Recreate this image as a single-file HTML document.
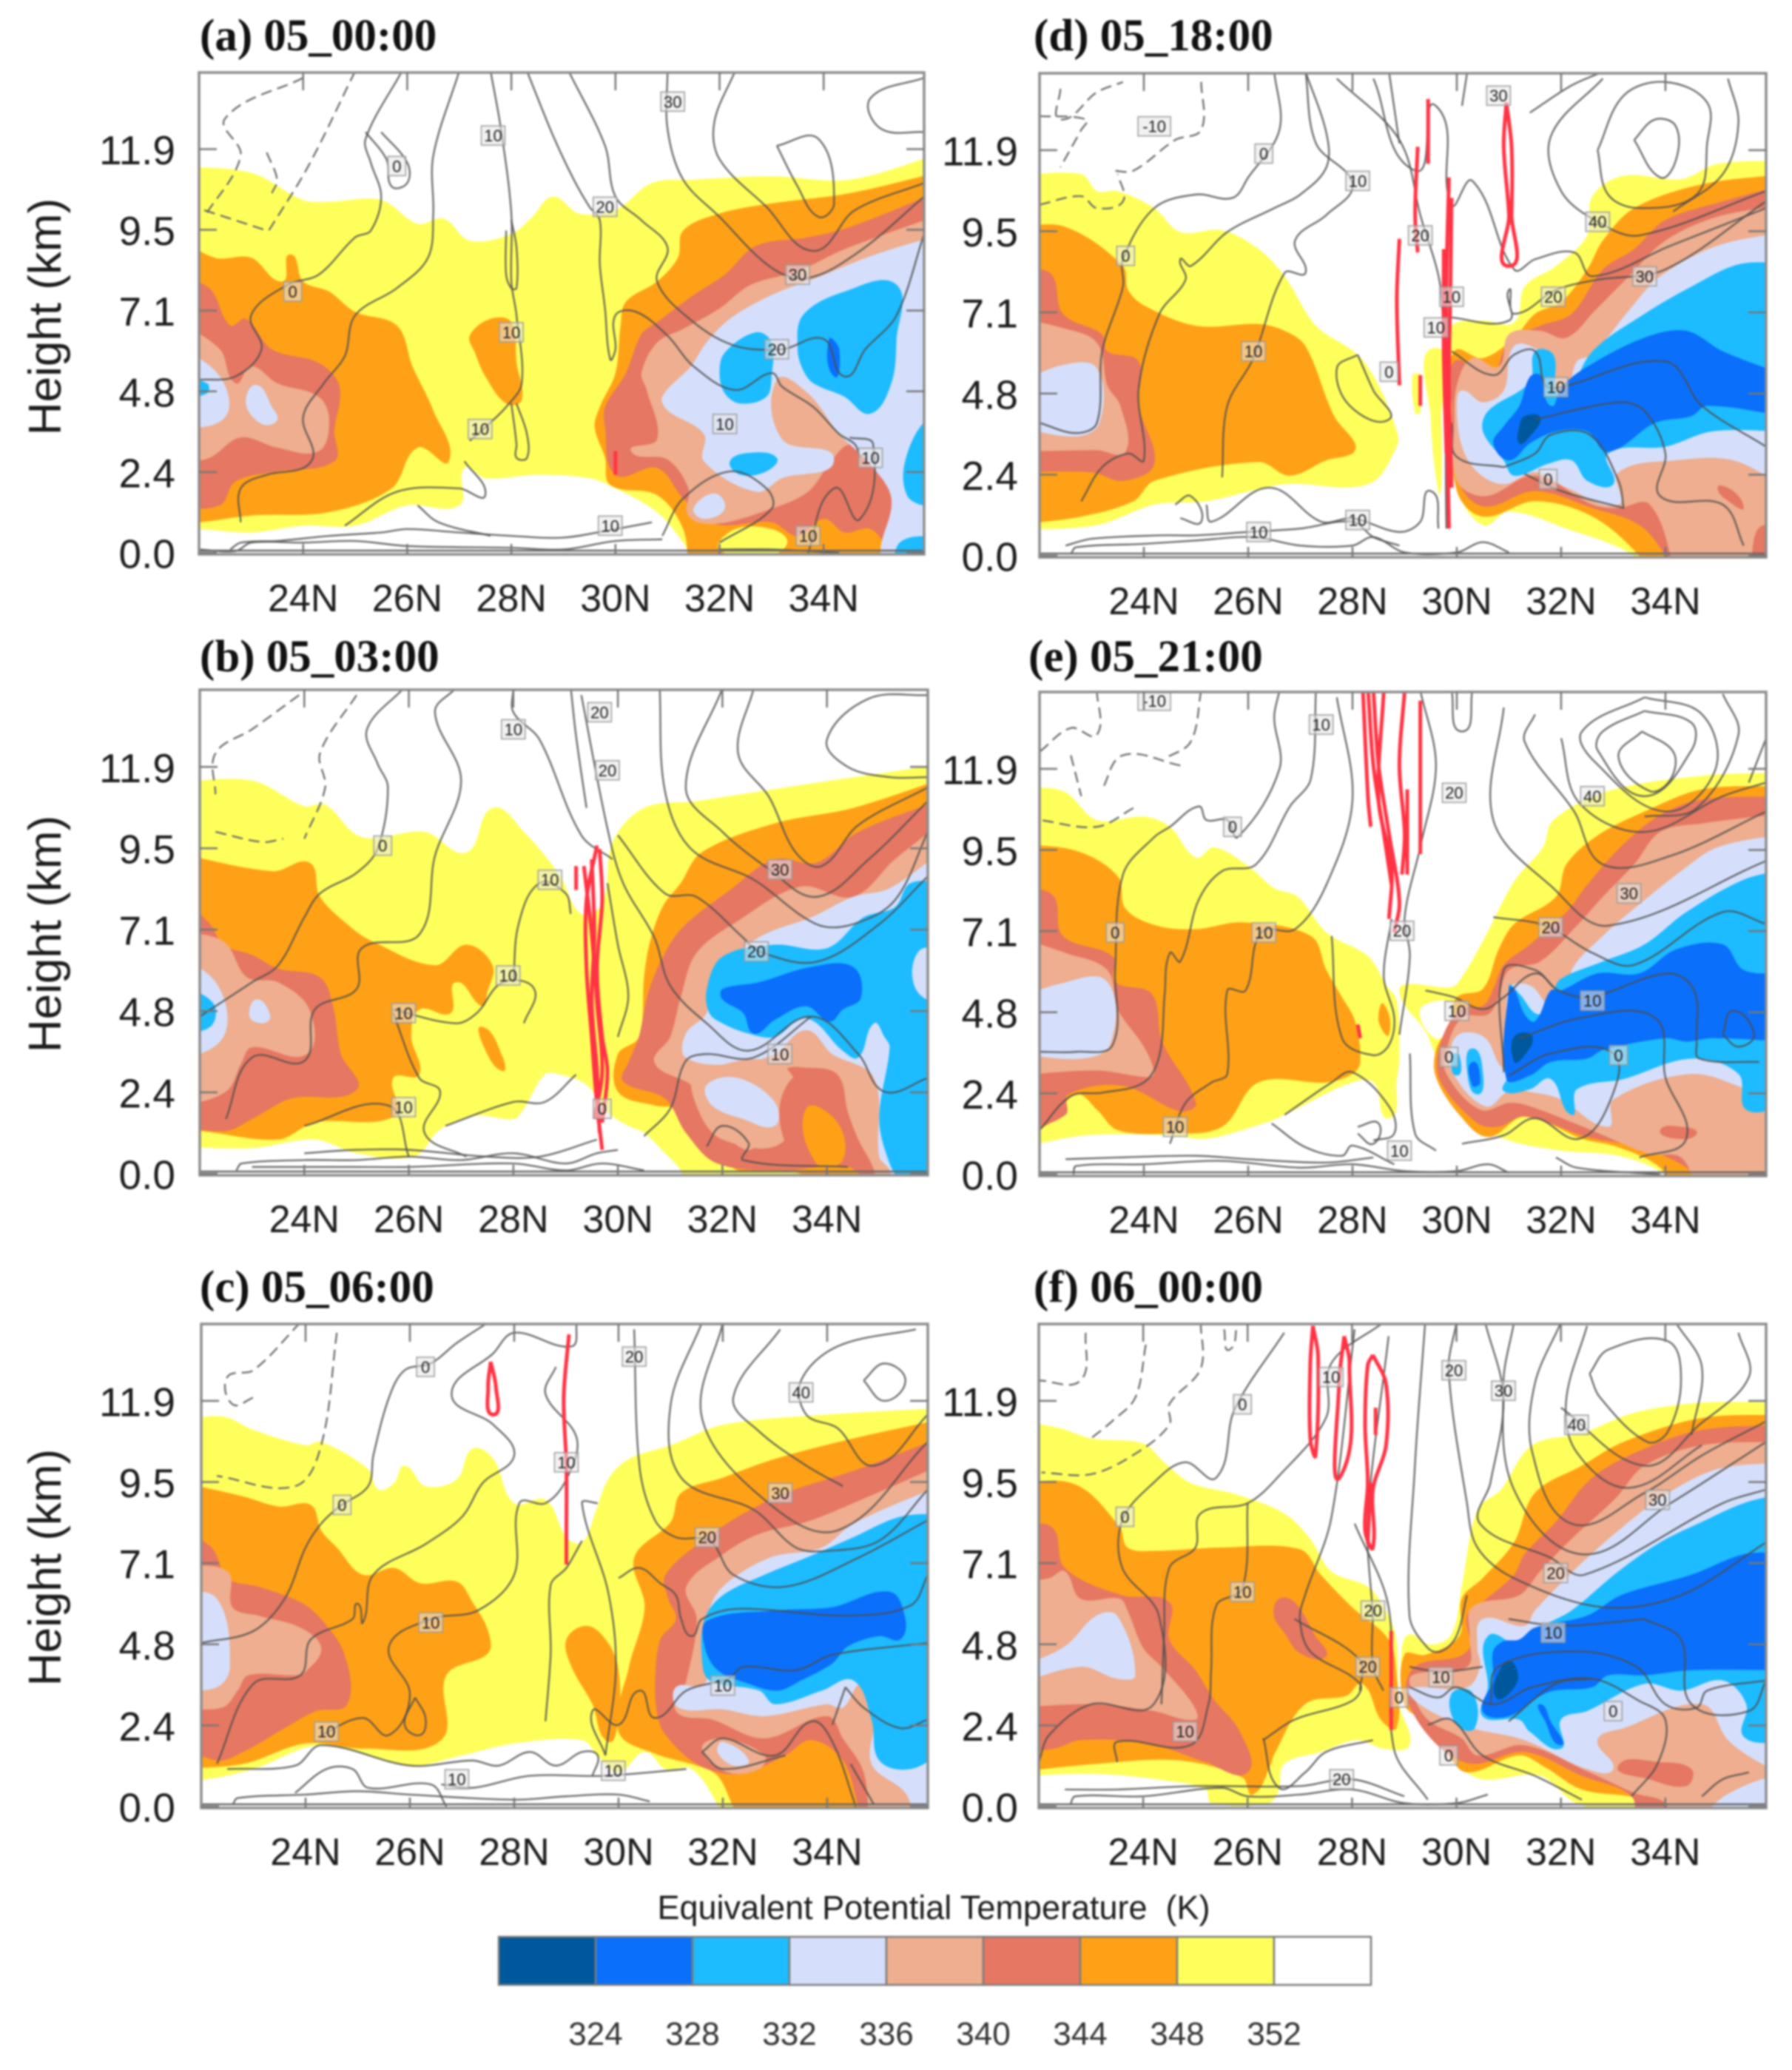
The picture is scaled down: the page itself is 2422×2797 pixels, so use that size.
<!DOCTYPE html>
<html lang="en">
<head>
<meta charset="utf-8">
<title>Equivalent Potential Temperature cross sections</title>
<style>
html,body{margin:0;padding:0;background:#fff;width:2422px;height:2797px;overflow:hidden}
svg{display:block;filter:blur(1.2px)}
text{font-family:"Liberation Sans",sans-serif;fill:#1c1c1c}
.ttl{font-family:"Liberation Serif",serif;font-weight:bold;font-size:61px;fill:#111}
.axt{font-size:62px;text-anchor:middle}
.lg{font-size:44px;text-anchor:middle;fill:#333}
</style>
</head>
<body>
<svg id="chart" xmlns="http://www.w3.org/2000/svg" width="2422" height="2797" viewBox="0 0 2422 2797">
<rect width="2422" height="2797" fill="#fff"/>
<g id="panels"></g>
<text class="ttl" x="270" y="68">(a) 05_00:00</text>
<text class="ttl" x="270" y="907">(b) 05_03:00</text>
<text class="ttl" x="270" y="1759">(c) 05_06:00</text>
<text class="ttl" x="1397" y="68">(d) 05_18:00</text>
<text class="ttl" x="1390" y="907">(e) 05_21:00</text>
<text class="ttl" x="1397" y="1759">(f) 06_00:00</text>
<text class="axt" transform="translate(82,428) rotate(-90)">Height (km)</text>
<text class="axt" transform="translate(82,1262) rotate(-90)">Height (km)</text>
<text class="axt" transform="translate(82,2118) rotate(-90)">Height (km)</text>
<text x="1262" y="2593" font-size="45" text-anchor="middle" fill="#333" style="white-space:pre">Equivalent Potential Temperature  (K)</text>
<g id="legend"></g>
</svg>
<script>
const latTicks=[24,26,28,30,32,34];
const latLabels=['24N','26N','28N','30N','32N','34N'];
const kmTicks=[0,2.38,4.76,7.14,9.52,11.9];
const kmLabels=['0.0','2.4','4.8','7.1','9.5','11.9'];
const legendBands=[324,328,332,336,340,344,348,352,356];
const legendLabels=['324','328','332','336','340','344','348','352'];

/* panel a : filled theta-e regions as [band, [lat,km,...]] */
const a_bands=[
[352,[21.5,11.4,23,11.2,24,10.4,24.5,10.35,25.5,10.4,26.2,9.7,26.7,9.85,27.2,9.2,28,9.4,28.4,9.9,28.8,10.5,29.3,10,30,10.1,30.7,10.9,31.5,11,33,11.1,34.5,11,36.3,11.8,36.3,-.5,31.6,-.5,31.3,.3,30.8,1.2,30,1.9,29.5,2.2,28.5,2.3,27.5,2.2,27.1,2.5,27,1.4,26,1.4,25,.8,24,.8,23,.6,22,.7,21.5,.7]],
[348,[21.5,9.4,22.3,8.7,23,8.7,23.6,8,23.75,8.8,24,8,24.5,7.7,25,7.1,25.8,6.7,26.1,5.5,26.5,4.2,26.8,2.7,26.2,3.1,25.7,1.9,24.5,1.2,23,1.1,22,.9,21.5,.9]],
[348,[27.2,6.4,27.6,6.9,28,6.8,28.1,5.6,28.2,4.5,27.9,4.4,27.5,5.2,27.3,5.9]],
[348,[36.3,11.25,34.5,10.6,33,10.3,32,10,31.3,9.5,31.2,8.7,30.8,8,30.2,7.4,30.1,6.7,30,5.3,29.7,4.3,29.6,3.7,29.8,2.8,29.9,2,30.8,1.7,31.3,.7,31.4,-.5,36.3,-.5]],
[352,[32,.1,32.3,.7,33,.7,33.3,.3,32.9,-.1]],
[344,[21.5,8.2,22.2,7.8,22.6,6.7,22.9,6.9,23.4,6,24.3,5.6,24.7,4.9,24.6,3.6,24.6,2.7,23.5,2.4,22.7,2.1,22.4,1.4,21.5,1.3]],
[344,[36.3,10.7,34.5,9.6,33.7,9.3,32.7,9.05,32.1,8.2,31.5,7.6,30.8,6.8,30.5,6.45,30.2,5.3,29.8,4.3,29.8,3.7,30,2.3,30.8,2.5,31.3,1.6,31.9,.85,33,.9,33.5,.5,34,1,34.4,.6,34.9,.7,35.2,.1,35.2,-.5,36.3,-.5]],
[340,[21.5,6.9,22.4,6,22.7,5,23,5.5,23.5,5,24.3,4.6,24.5,3.9,24.3,3,23.5,3.1,22.8,3.4,22.2,2.8,21.5,2.6]],
[340,[36.3,10,34.4,8.95,33.5,8.3,32.6,7.9,32,7.2,31.3,6.6,30.8,6.2,30.5,5.3,30.6,4.8,30.8,3.35,30.3,3,31,2.75,31.4,1.9,31.4,1.1,31.9,.85,33,1.3,33.7,1.8,34.1,2.6,34.5,3.2,34.9,2.9,35.2,2,35.5,1.5,35.3,.2,35.3,-.5,36.3,-.5]],
[336,[21.5,6.2,22.4,5.2,22.5,4,21.5,3.6]],
[336,[22.9,4.4,23.1,4.95,23.4,4.3,23.5,3.9,23.2,3.8]],
[336,[36.3,9.4,35,8.8,33.85,8.1,33,7.6,32.2,6.9,31.75,6.2,31.45,5.5,30.9,4.6,31,4.2,31.7,3.5,31.7,2.7,32.7,1.8,33.2,2.2,34.2,2.75,33.2,3.35,33.1,5.1,33.7,4.7,34.3,3.5,34.9,2.6,35.3,1.6,35.1,.2,35.1,-.5,36.3,-.5]],
[336,[31.5,1.3,31.9,1.75,32.1,1.3,31.7,1]],
[332,[21.5,5.2,22.15,5,22.15,4.7,21.5,4.5]],
[332,[32,5.3,32.1,5.9,32.7,6.5,33,6.2,33,5.2,32.9,4.6,32.4,4.4,32.1,4.7]],
[332,[33.5,6,33.6,7,34.4,7.7,35.4,7.9,35.4,6.3,35.3,5,34.9,4.1,34.4,4.6,33.8,5,33.6,5.4]],
[332,[32.2,2.7,32.6,2.95,33.1,2.8,32.9,2.4,32.4,2.3]],
[332,[36.3,4,35.9,3.8,35.55,2.6,35.6,1.7,35.9,1.4,36.3,1.4]],
[332,[36.3,.5,35.5,.35,35.3,-.5,36.3,-.5]],
[328,[34.1,6.3,34.2,5.2,34.3,6]]];
const a_lines=[
[22,5.1,22.7,5.2,23.2,6,23,7,23.7,7.9,24.3,8.2,25,9.3,25.3,9.5,25.5,10.5,25.3,11.5,25.2,12.2,25.9,14.2],
[22.8,.9,22.8,1.9,23.3,2.3,24,2.5,24.2,2.9,24,4,24.4,5,24.8,5.8,25,7,25.8,7.8,26.4,8.7,26.5,10,26.5,11.7,27,14.2],
[25.2,12.4,25.6,11.6,25.7,10.8,26,10.9,26,11.5,25.5,12.4],
[27.6,14.2,27.8,12.5,28,10,28,8,28.1,7,28.2,5,27.9,4.3,27.5,3.7,27.2,3.3],
[27.9,9.5,27.9,8.2,28,7.8,28.1,7.8,28.1,9,28,9.8],
[28,4.4,28.1,3.2,28.1,2.8,28.3,2.8,28.3,3.5,28.1,4.4],
[28.3,14.2,28.8,12.3,29.2,11,29.5,10.2,29.7,9.8,29.7,8.5,29.8,7.2,29.9,5.7,30,6,30,7,30.4,7.1,31,6.4,31.5,5.5,32.3,4.8,33,5.3,33.2,4.9,33.8,4.3,34.3,3.5,34.6,3.2,34.7,2.8],
[29.1,14.2,29.8,12,30,10.5,30.5,9.8,31,9,30.8,8,31.5,6.8,32.3,6.1,33.2,6,34,6.3,34.4,5.2,34.8,6,35.4,7,35.93,9.4],
[31,14.2,31,12.5,31.3,11,32,9.9,33,8.4,33.7,8.1,34.7,8.9,35.93,10.5],
[32.3,14.2,31.9,12.7,32,11.6,32.9,10.2,33.8,8.9,34.6,10.1,35.93,10.9],
[33.1,12,33.9,12.2,34.2,10.3,33.9,9.9,33.5,10.8,33.1,12],
[35.93,14,34.9,13.4,35.1,12.5,35.93,12.4],
[22.6,.1,22.8,.3,23.5,.35,24.5,.5,25.5,.6,26,.7,27,.6,28,.5,29,.45,30,.7,30.7,.9],
[22,.1,22.7,.05,23,.3,24,.3,25,.35,26,.2,28,.15,29,.1,30,.35,30.9,.4],
[26.2,1.4,26.6,.9,27.6,.5],
[24.8,.8,25.8,1.8,27,1.9,27.5,1.7,27.1,2.7],
[32,.3,33,1.3,32.9,1.9,32.2,2.4,31.3,1.6,30.9,.5],
[33.7,0,34.2,1.9,34.7,1,34.95,3.2,34.5,3.4],
[32,.1,33,.1,34.3,0]];
const a_dashed=[
[25,14.2,24.1,11.4,23.3,9.4],
[24,14,22.5,12.8,22.8,11.7,22.1,9.9],
[22.1,10.1,23.3,9.5],
[23.3,11.8,23.5,11,23.4,10.6]];
const a_red=[[30,3,30,2.3]];
const a_labels=[[27.65,12.3,'10'],[25.8,11.4,'0'],[31.1,13.3,'30'],[29.8,10.2,'20'],[23.8,7.7,'0'],[28,6.5,'10'],[27.4,3.65,'10'],[33.5,8.2,'30'],[33.1,6,'20'],[32.1,3.8,'10'],[34.9,2.8,'10'],[29.9,.8,'10'],[33.7,.5,'10']];

/* panel b */
const b_bands=[
[352,[21.5,11.45,23,11.5,24,10.75,24.4,10.8,25.1,9.85,26.3,10,27.1,9.4,27.6,10.7,28.2,10,28.9,8.7,29.3,7.6,29.7,7.9,29.9,9.7,30.5,10.7,31.5,10.9,33.2,11.3,36.3,12,36.3,-.5,31.3,-.5,31.2,.1,30.9,.6,30.5,1.2,30.2,1.4,29.8,1.8,29.4,2.6,28.9,2.9,28.6,2.9,28.2,1.9,28,1.6,27.3,1.7,26.6,1.3,26.1,.5,25,.6,24.2,1,23,.75,21.5,.8]],
[348,[21.5,9.4,23.4,8.85,24.1,9.1,24.3,8.1,24.9,7.2,25.3,6.8,26.5,6.1,27.1,6.7,27.6,6.1,27.5,5.3,27.4,4.9,26.9,5.6,26.8,4.7,26.2,4.8,26.05,4,26.2,2.9,25.7,2.8,25.75,1.7,24.2,1.5,23.5,1,22,1.25,21.5,1.25]],
[348,[27.4,4.3,27.8,3.4,27.8,3,27.5,3.5]],
[348,[36.3,11.6,34.5,10.7,33,10.25,31.6,9.4,31.2,8.5,30.85,7.8,30.6,6.7,30.5,5.75,30.4,4,30,3.5,30,2.4,30.7,2,31.3,1.85,31.9,.65,32.3,.1,33.5,0,33.5,-.5,36.3,-.5]],
[344,[21.5,8.3,22.2,7.3,22.45,6.7,23,6.4,23.5,6,24.3,5.75,24.55,4.9,24.7,3.5,25,2.45,23.75,2.2,23,1.6,22.5,1.25,21.5,1.4]],
[344,[36.3,11,34.6,10,33.8,9.1,33,9.2,32.1,8.25,31.3,7.3,30.95,6.6,30.6,5.4,30.4,4,30.2,3.25,30.1,2.7,30.9,2.2,31.3,1.2,31.9,.3,33.2,.1,34.4,.2,34.9,-.5,36.3,-.5]],
[348,[33.6,1.9,34.2,1.5,34.3,.4,33.8,.3]],
[340,[21.5,7.1,22.45,6.8,22.9,5.75,23.5,5.6,24.1,4.8,24.05,3.5,23,3.7,22.8,3.25,22.5,2.4,21.5,1.9]],
[340,[36.3,10.4,35.3,9.2,34.5,8.1,33.5,8.4,32.3,7.4,31.5,6.45,31.2,5.15,31,4,30.7,3.25,31.4,2.6,31.8,1.85,32.1,1.1,32.5,.7,32.8,1.1,33.1,1.6,33.2,3,33.6,3.1,34.2,2.9,34.4,1.8,34.6,1,34.9,.1,34.9,-.5,36.3,-.5]],
[336,[21.5,6.5,22.35,5.5,22.45,4,21.5,3.2]],
[336,[22.95,4.6,23.1,5.1,23.35,4.6,23.2,4.4]],
[336,[36.3,9.55,35.2,8.35,34.5,8.1,33.7,7.5,32.8,7,32.2,6.35,31.8,5.6,31.7,4.7,31.3,4.1,31.3,3.4,32.2,3.2,33,3.5,33.6,4.2,34.1,3.5,34.9,2.8,35,.5,35.2,.1,35.2,-.5,36.3,-.5]],
[340,[31.5,2.9,33.2,3.1,33.2,1,32,1,31.5,2]],
[336,[31.7,2.6,32.3,2.8,33,2.1,33,1.4,32.4,1.6,31.8,2]],
[344,[33.2,2.5,33.6,3,34.2,2.7,34.4,1.6,34.5,.6,33.4,.6,33.1,1.5]],
[348,[33.6,1.9,34.2,1.5,34.3,.4,33.8,.3]],
[332,[21.5,5.6,22.25,5,22.2,4.3,21.5,4.1]],
[332,[36.3,8.5,35.6,8.5,35.3,7.8,34.7,7.5,34,6.6,33,6.7,32,6.35,31.7,5.4,31.75,4.7,32,4.4,32.5,4.1,33,4,33.6,4.55,34.3,3.6,34.6,3.4,34.9,4.4,35.1,4,35.2,3.7,35,1.6,35.2,.3,35.5,-.5,36.3,-.5]],
[336,[36.3,6.6,35.75,6.5,35.7,5.4,36.3,4.8]],
[328,[32,5.4,32.7,5.6,33.7,6.05,34.5,6.05,34.65,5.15,34.3,4.8,34.05,4.45,33.6,4.9,33,4.5,32.6,4.1,32.4,4.7,32,5.1]]];
const b_lines=[
[22,4.6,23,5.6,23.5,6.1,24,7.5,24.3,8.2,25,8.8,25.4,9.5,25.6,11.3,25.4,12,25.2,13,25.9,14.2],
[22.5,1.6,23,3.4,24,3.3,24.2,4.8,25,5.4,25.1,6.6,26.2,7,26.5,9.3,27,11.5,26.5,13.5,26.9,14.2],
[24,1.4,25.6,2,26,.5],
[25.7,4.7,26.2,2.8,26.6,2.4,26.3,1.2,27.1,.5],
[25.7,4.8,26.9,4.4,27.3,4.7,27.8,5.6,28.4,5.4,28.2,4.4],
[28,5.6,28.1,7.3,28.5,8.5,29,8.2,29.1,7.6],
[26.7,1.4,28,2.1,28.6,2.1,29.2,2.9],
[28,14.2,28,13.5,28.5,12.7,29.3,9.9,29.9,9.2],
[29.1,14.2,29.2,12.8,29.4,10.7],
[29.3,14,29.8,10.1,30.1,8.5,30.7,6.9,31,5.5,31.7,4.4,32.5,3.6,33.7,4.6,34.6,3.5,35.1,2.4,35.93,2.8],
[30,9.9,30.9,8.2,31.5,8.1,32.4,6.9,32.7,6.5,33.8,6.2,35,7.3,35.93,8.7],
[30.8,14.2,30.9,11.2,31.4,9.5,32.6,8.6,33.8,7.3,34.5,7.3,35.3,8,35.93,10],
[32,14.2,31.3,11.3,32,10,32.9,8.9,33.8,8.1,34.8,9.2,35.93,10.9],
[32.6,14.2,32.3,12.3,32.9,11,33.4,9.4,33.9,9,34.6,10.2,35.93,11.3],
[35.93,14,34.8,13.9,34,12.7,34.4,11.9,35.2,11.6,35.93,11.6],
[30.5,1.1,31,1.9,31.3,3.3,31.7,3.5,32.6,3.4,33.7,4.6],
[31.7,.8,32,1.4,32.5,.9,32.4,.4,34.4,.2],
[30,4,30.2,5.2,30,6.7,29.8,8.5],
[22.7,.1,22.8,.3,24,.4,25,.4,26,.5,27,.4,28,.6,29,.3,29.6,.6,30,.7],
[23,.2,25,.2,26,.2,28,.3,29,.1,29.7,.3,30.5,.1],
[24,.6,25,.7,26,.7,27.5,.5,28.5,.5,29.6,1]];
const b_dashed=[
[25,14,24.3,12.3,24.4,11.3,24,9.8],
[23.9,14,23,13,22.3,12.3,22.3,11.1],
[22.3,10,23.2,9.7,23.6,9.8]];
const b_red=[
[29.2,9,29.2,8.3],
[29.6,9.6,29.4,8,29.4,6,29.5,4,29.6,2,29.7,.7],
[29.65,9.5,29.7,8,29.6,6,29.7,4,29.8,3,29.7,1.5],
[29.35,9,29.5,7,29.6,5,29.7,3,29.55,1.6],
[29.5,9.2,29.55,7,29.5,5,29.6,3,29.65,1.2]];
const b_labels=[[28,13,'10'],[29.65,13.5,'20'],[29.8,11.8,'20'],[25.5,9.6,'0'],[28.7,8.6,'10'],[27.9,5.8,'10'],[25.9,4.7,'10'],[25.9,1.95,'10'],[29.7,1.9,'0'],[33.1,8.9,'30'],[32.65,6.5,'20'],[33.1,3.5,'10']];

/* panel c */
const c_bands=[
[352,[21.5,11.3,22.4,11.45,23,11.05,24,10.6,24.3,10.7,25.2,9.9,25.4,9.3,25.7,9.5,25.9,10,26.3,9.4,26.9,9.6,27.2,10.5,27.6,10.2,28,8.9,28.6,9,29,7.9,29.3,7.75,29.55,8.6,29.8,9.6,30.2,10.2,31,10.6,32,11.2,34,11.5,36.3,11.7,36.3,-.5,32,-.5,31.9,.05,31.4,1.1,30.9,1.1,30.5,1.6,30,1,29.6,1.5,29.3,1.95,28,1.85,27,1.5,26,1.2,24.3,1.8,23,1.1,22,.77,21.5,.77]],
[348,[21.5,9.55,22.8,9.1,23.5,8.8,24.1,8.85,24.3,8.1,24.6,7.6,25.1,6.8,25.7,7,26.2,6.55,26.9,6.6,27.2,6,27.5,5.15,27.5,4.5,26.7,3.85,26.6,1.95,25.1,1.7,24,1.85,22.8,1.25,21.5,1.1]],
[348,[29,4.9,29.4,5.3,29.8,4.8,30,4,30,2.6,29.8,1.9,29.5,3,29.1,4.1]],
[348,[36.3,11.4,34.5,10.8,33,10.2,32,9.65,31.2,9.2,31,8.35,30.3,7.3,30.5,5.85,30.2,4.1,30,2.2,30.7,1.55,31.5,1.2,31.9,.9,32.2,0,32.4,-.5,36.3,-.5]],
[344,[21.5,8.2,22.2,7.6,22.5,6.7,23.1,6.45,23.9,6,24.3,5.5,24.75,4.45,24.8,3,24.2,2.8,23.6,2.3,22.8,1.6,22.3,1.35,21.5,1.9]],
[344,[36.3,10.9,34.6,9.9,33.2,9.2,32.4,8.6,31.7,7.9,30.9,6.8,30.95,6.1,31.1,5.5,30.8,4.9,30.7,3.6,30.75,2.65,30.9,2.1,31.5,1.25,32.3,.95,33.2,1.5,33.7,1.95,34.3,1.35,34.6,0,34.7,-.5,36.3,-.5]],
[340,[21.5,7.05,22.5,6.9,22.6,5.85,23.1,5.6,23.9,5.25,24.3,4.65,24,3.95,23.8,3.85,22.9,3.85,22.7,3.4,22.4,2.9,21.5,2.9]],
[340,[36.3,10.1,34.5,8.9,33.6,8.35,32.7,8,32,7.4,31.3,6.45,31.5,5.5,31.3,3.7,31.1,2.8,31.8,2.55,32.8,2,34,2.65,34.3,2,34.7,1,34.8,-.5,36.3,-.5]],
[340,[31.6,1.7,32,2,32.8,1.5,32.7,1.1,32.1,1]],
[336,[21.5,6.3,22.3,6.1,22.55,4.1,22.3,3.5,21.5,3.4]],
[336,[36.3,9.5,34.5,8.3,33.9,7.6,32.9,7.3,32,6.45,31.7,5.6,31.65,4.55,31.65,3.6,31.1,3.5,31.15,2.9,32,2.85,32.8,2.65,34,3,34.3,2.9,34.7,3.6,34.9,2.55,34.85,1.25,35.5,.4,35.7,-.5,36.3,-.5]],
[336,[32,1.9,32.5,1.35,32.2,1.2,31.9,1.6]],
[332,[36.3,8.6,35.4,8.5,34.5,7.9,33.6,7.3,32.8,6.8,32,6.2,31.65,5.5,31.6,4.3,31.75,3.7,32.7,3.4,33,3,33.9,3.4,34.5,3.7,34.85,2.55,35,1.35,35.6,1.1,36.3,1.7]],
[328,[31.7,5.45,33,5.75,34.1,5.85,35.2,6.3,35.5,5.5,35.4,4.9,35,5,34.4,4.7,34.1,4.2,33.5,3.7,33.05,3.4,32.5,3.6,31.9,4,31.65,4.7]]];
const c_lines=[
[22,4.8,23,5.15,23.6,6.1,24,7.6,24.3,8.3,24.65,8.8,25.2,9.4,25.3,10.3,25.6,12,25.9,12.8,26.4,13,26.9,13.6,27.5,14.2],
[22.3,1.25,23,3.6,23.9,3.85,24.1,4.9,24.9,5.5,25,5.95,25.1,5.4,25.3,6.8,26.3,7.7,27,8.5,27.4,9.5,28,10.3,27.6,11.2,26.8,12.1,27.6,13.3,28,13.9,29.1,13.5,29.2,14.2],
[24.3,2.1,25.1,2.6,25.6,2.1,26,3.3,25.6,4.7,26.4,5.5,27.3,5.75,28,6.8,28.1,8.9,28.6,8.9,29,9.6,29.2,10.8,28.6,12.1,28.8,12.9],
[26.1,3.2,25.9,2.4,26.2,2.1,26.3,2.6,26.1,3.2],
[22.5,1.1,23.8,1.2,24.3,1.8,26,1.2,27.2,1.35,27.7,1.2,28.3,1.6,28.8,1.2,29.3,1.6,29.6,1.5,29.5,.9],
[23.8,.4,24.4,1.1,24.9,1.1,25.2,.55,26.4,.65,26.7,0],
[26.6,.65,27.2,.55,28.3,.9,29.7,.9,31.3,1.1],
[28.6,2.5,28.7,4.5,28.7,6.5,29,7,29.3,7.8],
[29.75,1.5,29.95,4.1,29.8,6.3,29.3,8.9,29.6,8.9],
[29.75,1.5,29.5,2.8,30,2.4,30.4,3.4,30.7,2.6,31.3,3.4,32.1,3.75,32.4,4.1,33.4,4,34.1,4.45,35.93,4.8],
[30,6.7,30.4,7,30.8,6.55,31.1,6.2,31.2,5.5,31.4,5,31.6,5.5,32.3,5.8,34.4,5.6,35.6,5.9,35.93,6.8],
[30.3,14,30.4,10,30.7,8.4,31.1,7.9,31.75,7.8,32.2,6.8,33.2,6.45,34.6,7.3,35.93,8.4],
[31.6,14.2,31,11.8,31.2,9.65,32.6,8.7,33.4,7.6,34,7.5,35,7.8,35.93,9.3],
[32,14.2,31.6,11.4,32.8,9,34.2,8.1,35.93,10.7],
[33.1,14,32.2,12,32.7,11,33.6,10,34.3,9.4],
[35.7,14,34.2,13.5,33.5,12.5,33.6,11.5,34.2,11.1,34.9,10,35.93,11.5],
[34.7,12.5,35.1,13,35.5,12.5,35.1,11.9,34.7,12.5],
[31.6,1.6,32,2,33,1.5,33.7,2.5,34.1,1.9,34.55,0],
[31.6,1.6,32,1.1,33.2,1.5],
[34.35,3.5,34.7,2.9,35.4,2.3,35.93,2.55],
[34.35,3.5,34.1,2.4],
[34.45,1.25,34.9,.05],
[22.6,.05,22.7,.25,24,.35,25,.45,26,.35,28,.2,29,.3,30,.35,30.6,.15]];
const c_dashed=[
[24.6,13.9,24.3,10.6,23.8,9.4,22.3,9.7],
[23.9,14.2,23,12.8,22.5,12.6,22.6,11.8,23,12]];
const c_red=[
[27.55,13.05,27.65,12.3,27.6,11.5,27.5,12.3,27.55,13.05],
[29.05,13.85,28.95,12,29,10,29,8,29,7.1]];
const c_labels=[[26.3,12.9,'0'],[30.3,13.2,'20'],[33.5,12.15,'40'],[24.7,8.85,'0'],[29,10.1,'10'],[33.1,9.2,'30'],[31.7,7.9,'20'],[26.4,5.4,'10'],[24.4,2.2,'10'],[32,3.55,'10'],[26.9,.8,'10'],[29.9,1.05,'10']];

/* panel d */
const d_bands=[
[352,[21.5,11.15,22.8,11.2,23.1,10.7,23.5,10.7,24.2,10.2,24.7,9.5,25.5,9.55,26.2,9,26.7,8.2,27.3,6.75,28.1,5.9,28.5,5,28.85,3.65,28.85,3.2,28.3,2.1,26.7,2.1,25.2,1.6,24.2,1.5,23.1,.9,21.5,.75]],
[352,[29.9,6.75,30.5,6.9,31.1,6.85,31.3,7.9,31.9,8.5,32.5,9.4,32.6,10.55,33.2,11.15,34.3,11.05,35,11.5,36.3,11.6,36.3,-.5,33.4,-.5,33.4,0,32.1,.8,31,1.3,30.5,.9,30,2,29.8,4,29.8,6]],
[352,[29.6,6.1,29.7,4,29.7,2,29.65,1.8,29.5,4]],
[352,[29.15,5.3,29.3,5.3,29.3,4.2,29.2,4.2]],
[348,[21.5,9.65,22.5,9.65,23.6,8.5,23.7,7.8,24,7.35,25,6.75,26.2,6.8,26.7,6.6,27.1,6.15,27.65,4.1,28.05,3.3,28,3,27.5,2.8,26.8,2.35,26.2,2.75,24.2,2.2,23.8,1.6,22.8,1.15,21.5,.9]],
[348,[36.3,11.2,34.7,10.9,33.4,10.2,32.8,9.25,32.5,8.4,32,7.45,31.5,7.1,31.1,6.4,30.5,5.8,29.95,6,29.9,4.4,30,1.9,30.5,1.15,31.5,1.6,32.6,1.15,33.5,0,33.6,-.5,36.3,-.5]],
[344,[21.5,8.3,22.2,8.3,22.45,7.1,23.2,6.5,23.3,6,23.9,5.7,23.9,4.4,24.2,2.7,23.6,2.2,23,2.45,21.5,2.45]],
[344,[36.3,10.9,35.1,10.4,34,9.85,33.4,9,32.8,8.4,32.2,7.1,31.6,6.75,31,6.3,30.7,5.25,30.5,5.25,29.95,5.7,29.9,4.4,30,2.3,30.5,1.45,31.5,1.9,32.6,1.4,33.5,.9,34,0,34.1,-.5,36.3,-.5]],
[340,[21.5,7,22.4,6.7,23.1,6.25,23.3,5,23.55,4.4,23.65,3.05,23.1,3.1,21.5,3.05]],
[340,[36.3,10.3,35,9.95,34,9.25,33.3,8.2,32.65,7.2,32.1,6.4,31.6,6.6,31,6.5,30.8,5.55,30.3,5.8,30,5,29.95,3.8,30,2.2,30.55,1.75,31.5,2.35,32.6,1.5,33.1,1.4,33.7,1.5,34.2,-.5,36.3,-.5]],
[344,[35,2,35.3,1.9,35.5,1.4,35.3,1.5]],
[344,[35.6,-.5,35.93,.9,36.3,-.5]],
[336,[21.5,5,22.45,5.6,23.1,5.5,23.15,3.9,22.7,3.5,21.5,3.8]],
[336,[36.3,9.5,35,9.1,33.9,8.2,33.3,7.2,32.6,5.9,32.3,5.7,32,4.6,31.75,5.55,31.6,6,31.1,6.15,30.9,4.85,30.5,4.5,30.1,4.85,30,4.4,30.1,3.2,30.4,2.45,30.9,2.1,31.5,2.45,32.1,2,33.1,1.5,33.1,2.45,34.2,2.8,35.3,2.8,36.3,2]],
[332,[36.3,8.6,35.4,8.55,34.5,7.9,33.6,7.1,32.6,6,32.1,4.7,31.9,4.85,31.85,5.9,31.5,6,31.4,5.1,30.6,4.25,30.5,3.65,30.9,2.8,31.1,2.35,31.75,2.7,32.2,2.8,32.5,2.2,33,2.1,32.9,3,34,3.2,34.9,3.65,36.3,3.65]],
[328,[36.3,5.3,35.1,6,34.4,6.6,33.6,6.4,32.5,5.55,32,4.95,31.8,4.4,31.6,5.3,31.4,5.25,31.2,4.4,30.9,3.8,30.7,3.3,31,2.8,31.4,3.3,31.9,3.65,32.5,3.65,32.9,3.05,33.8,3.9,34.5,4.1,34.8,4.4,36.3,4.1]],
[324,[31.3,4.1,31.6,4.05,31.4,3.5,31.2,3.3,31.2,3.8]]];
const d_lines=[
[22,3.9,22.7,3.6,23.1,3.9,23.2,6,23.6,7.9,23.6,8.7,24.2,10.2,25,10.6,25.7,10.5,26,11.1,26.6,12.5,26.5,14.2],
[22.8,1.6,23.2,2.6,23.7,3,24,2.8,23.9,4.9,24.3,7.1,24.8,8.1,24.7,8.7,24.9,8.5,25.6,9.5,26.5,10.2,27,10.6,27.5,11.4,27.5,12.4,27.1,14.2],
[25.5,2.3,25.6,4.4,26.1,5.8,26.7,8.3,27.1,8.3,26.9,9.25,27.5,10,28,10.9,27.3,12.1,27.1,14.2],
[25.2,1.5,25.3,1,26.4,2,27.4,1,28,1.1,28.9,.7,29.3,1,29.5,1.9,29.65,.8],
[24.6,1.5,24.9,1.75,25.1,1,24.7,1.1],
[28.1,5.9,27.7,5.5,27.95,4.4,28.7,4,28.4,4.85,28.1,5.9],
[27.7,14,28.9,12.2,29.3,10,29.7,7.7,29.8,.8],
[28.4,14,29.2,11.3,29.6,13.2,29.9,10.3,30.3,11,31.1,8.4,31.5,8.7,32.25,8.9,32.6,8.2,34.1,9.1,35.93,10.2],
[29.85,7,31,6.9,31,7.8,31.1,7.1,31.9,7.8,32.7,8.1,34,8.4,35.93,10.4],
[29.9,6,30.7,5.3,31.1,5.9,31.5,6,31.7,5,32,4.95,34,5.7,34.7,4.4,35.93,3.2],
[31.5,4,33.1,4.5,33.6,4.25,34,3,33.9,1.75,35.1,1.5,35.5,.3],
[30.9,2.6,31.5,3,31.8,3.55,32.55,3.55,33.1,2.2,33.2,1.4],
[31.3,2.4,32,1.9,33.2,1.4],
[29.9,3.9,30,2.9,30.9,2.6],
[32.8,14,31.8,12.3,32,10.7,32.7,9.8,33.5,9.4,35.93,10.7],
[32.7,11.9,33.2,13.5,34,13.9,34.8,13.3,34.8,12.1,34.6,10.6,33.5,10.2,32.9,10.6,32.7,11.9],
[33.4,12.2,33.8,12.8,34.2,12.6,34.2,11.6,33.9,11.1,33.4,12.2],
[35.2,14,35.4,12.7,35.1,11.2,34.15,10.1],
[28.9,12.1,28.7,14.2],
[22.6,.05,22.7,.25,24,.35,25,.45,26.1,.55,27,.3,28,.3,28.4,.55,29,.1,30,.1,30.5,.4,31,.1],
[22.5,.3,23,.5,24.3,.6,25,.6,26,.7,27,.8,28,1,28.4,.55,28.9,.3],
[30.2,14.2,30.1,13.2],[31.4,13,32.2,13.8,32.8,14.2]];
const d_dashed=[
[25.1,13.9,25.1,12.5,24.6,12.2,23.8,11.3,23.4,11.3],
[22.4,13.7,22.4,12.8,23.1,13.6,23.6,13.9],
[22,10.3,22.8,10.55,23.1,10.2,23.6,10.4,23.5,11.2],
[22,12.9,22.9,12.8,22.8,12.5,22.4,11.4]];
const d_red=[
[29.45,13.4,29.45,11.5],
[29.25,12,29.2,10,29.25,8.9],
[29.85,11.1,29.8,8,29.8,5,29.85,.8],
[29.9,10.5,29.88,8,29.85,5,29.9,2],
[29.75,9,29.75,6,29.8,3],
[30.95,13.3,30.9,12,31,10,31,8.5,31.05,10,31.05,12,30.95,13.3],
[28.9,9.3,28.85,7.5,28.9,5],
[29.3,5.3,29.3,4.4]];
const d_labels=[[24.2,12.6,'-10'],[26.3,11.8,'0'],[28.1,11,'10'],[30.8,13.5,'30'],[23.65,8.8,'0'],[32.7,9.8,'40'],[29.3,9.4,'20'],[33.6,8.2,'30'],[31.85,7.6,'20'],[26.1,6,'10'],[29.6,6.7,'10'],[29.9,7.6,'10'],[28.7,5.4,'0'],[31.9,4.95,'10'],[31.75,2.25,'0'],[28.1,1.05,'10'],[26.2,.7,'10']];

/* panel e */
const e_bands=[
[352,[21.5,11.35,22.45,11.25,23.1,10.4,24,10.5,24.5,10.2,25,9.3,25.35,9.6,26,9.05,26.5,8.4,26.95,8.15,27.5,7.1,28.3,6.4,28.65,5.55,28.85,5.1,28.9,3.4,28.85,2.8,28.7,1.65,28.4,2.7,27.9,2.65,26.7,1.75,26.3,1.5,25.2,1.05,24.5,1.15,22.9,1.15,21.5,.75]],
[352,[28.95,5.55,29.9,5.5,30.1,5.8,30.5,6.85,31.1,8.6,31.65,9.6,31.85,10.4,32.9,11.25,34.7,11.7,36.3,11.8,36.3,-.5,34.1,-.5,34,0,33.1,.55,32,.7,30.9,1.05,30.3,1.65,29.95,2.7,29.6,3.5,29.4,4.2,28.95,5.1]],
[356,[29.35,4.95,29.95,4.95,29.7,4,29.35,4.4]],
[348,[21.5,9.7,22.7,9.5,23.5,8.75,23.65,7.8,24.25,7.3,25,7.2,25.9,7.4,27.2,7,27.5,6,27.8,5.2,28.05,4.5,28.15,3.3,28,2.95,27.5,2.7,26.2,2.7,25.5,1.4,24.5,1.2,23.5,1.3,23.1,1.9,22.7,2.35,22.2,1.5,21.5,1.1]],
[348,[28.6,5,28.7,4.1,28.5,4.5]],
[348,[36.3,11.4,34.7,11.3,33.6,10.65,32.7,9.95,32.1,9.1,31.9,8.15,31.1,7.35,30.8,6.6,30.5,5.45,30,5.2,29.9,4.5,29.6,3.65,29.6,2.85,30.05,1.75,30.6,1.1,31.3,1.7,32.4,1.05,33.1,.8,33.9,.2,34.1,-.5,36.3,-.5]],
[344,[21.5,8.4,22.25,8.2,22.45,7,23.4,6.4,23.45,5.65,24.15,5.3,24.35,3.9,25,2.1,24.7,1.85,23.6,2.6,22.55,2.35,22.5,1.75,21.5,1.15]],
[344,[36.3,11.1,34.7,11,33.9,10.55,33.2,9.7,32.5,8.5,32.1,7.7,31.4,6.75,30.9,6.15,30.7,5.45,30.5,4.95,30.05,4.85,29.65,3.65,29.7,2.7,30.4,1.5,30.8,1.4,31.3,1.7,32.5,1.1,33.5,.8,34.4,.2,34.7,-.5,36.3,-.5]],
[340,[21.5,7,22.5,6.5,23.3,6,23.5,4.85,24,3.75,24.2,3,24.1,2.85,23.1,3.05,21.5,2.9]],
[340,[36.3,10.6,34.7,10.3,33.9,10.05,33.4,9.1,32.8,8.15,32.3,7.3,31.6,6.25,31,6,30.8,5.2,30.6,4.7,30.1,4.6,29.8,3.65,29.8,2.95,30.45,1.9,31,2.1,31.4,2,32.5,1.35,33.7,.6,34.3,.5,34.6,-.5,36.3,-.5]],
[344,[33.9,1.3,34.3,1.4,34.6,1.2,34.2,1.05]],
[336,[21.5,5.1,22.4,5.6,23.3,5.65,23.35,3.8,22.8,3.4,21.5,3.55]],
[336,[36.3,10,35,9.6,34.3,8.9,33.4,7.8,32.8,7,32.2,6,32.3,5.55,31.9,4.85,31.4,5.55,31,5.45,31,3.55,30.9,3.1,30.55,4,30.1,4.15,29.9,3.8,29.9,3.05,30.55,2,31,2.45,31.5,2.4,32,2.2,32.9,1.4,33,2.2,34.5,2.95,35.7,2.45,36.3,2.35]],
[332,[36.3,8.95,35.5,8.65,34.4,7.7,33.6,6.75,32.8,6.25,32,5.75,31.85,5.4,31.6,4.7,31.2,5.3,31,5.55,31,2.95,30.9,2.45,31.4,2.5,31.8,2.8,32.2,1.75,32.3,2.5,33.2,2.8,34.5,3.4,35.4,2.95,35.55,1.9,36.3,2]],
[332,[30.3,3.7,30.2,3,30.4,2.35,30.5,3]],
[332,[29.9,3.5,30.05,3.5,30,2.9]],
[328,[36.3,5.9,35.5,6,35.1,6.75,34.2,6.6,33.5,5.9,32.7,5.9,32,5.4,31.8,5.4,31.5,4.5,31.3,4.7,31.1,5.45,31,5.5,30.95,2.8,31.4,2.9,31.8,3.3,32.5,3.4,32.8,3.65,34,4,34.4,3.9,34.9,4,36.3,3.9]],
[328,[30.3,3.3,30.45,2.7,30.3,2.6]],
[324,[31.1,4.05,31.45,4.05,31.25,3.4,31.1,3.3]]];
const e_lines=[
[22,3.6,22.7,3.6,23.4,3.8,23.45,6,23.6,8.8,24.2,9.9,24.5,10.2,25.05,10.8,25.2,10.4,25.6,10.4,25.8,9.9,26.6,11.9,26.5,13.4,26.6,14.2],
[22,1.3,22.6,2.3,23.2,2.4,24,2.7,24.3,3.5,24.4,5.3,24.5,6.5,24.7,6.25,25.05,8.05,25.5,8.9,26.15,9.1,26.8,10.8,27.2,11.6,27.3,14.2],
[24.5,.9,24.8,2.1,25.3,2.7,25.6,2.95,25.6,5.4,25.95,5.4,26.25,7.1,26.9,7.2,27.5,8.5,28,11,27.7,14],
[26.7,1.75,27.6,2.7,28,3,28.7,2,28.8,1.2,28.4,1],
[27.6,7,27.8,4,28.4,3.5,28.7,3.8,28.8,4.6,28.6,5.8,28.75,7.5],
[26.45,1.5,27.1,.8,27.8,.55,28,.85,28.8,.3],
[28.9,4.1,29.1,6.4,29,7.55,29.3,9.6],
[29.1,3.55,29.2,1.2,29.6,.7],
[29.4,5.4,29.95,5.2,30.5,4.85,30.9,5.2,31.5,5.9,31.95,5.4,32.55,5.2,34.05,5.9,34.55,5.4,34.6,3.9,34.65,3.4,35.8,3.3],
[30.7,7.55,31.7,7.3,32.6,6.5,33.4,6.15,35.1,7.7,35.93,7.35],
[30.9,3,30.9,6,31.5,6,31.85,5.5],
[31.2,4,32.4,4.6,33.8,4.6,34,2.85,34.4,1.05,33.5,.5],
[31,2.9,31.8,3.55,33,3.55,32.95,2.2,32.35,1.05,31.5,1.65,30.9,1.15,30.1,.9],
[30.9,13.7,30.7,10.4,31.85,8.4,32.9,7.3,35.93,9.2],
[31.5,13.5,31.3,12.7,32.25,10.65,32.8,9.1,34.1,9.35,35.93,10.65],
[32,12.8,32.35,10.9,33.6,10.05,35.1,11.1,35.93,11.5],
[33.6,14,34.7,13.5,34.95,11.85,34,10.65,32.65,12.1,32.4,13,33.6,14],
[33.6,13.6,34.5,13.25,34.5,12.45,33.6,11.1,32.7,12.45,32.8,13,33.6,13.6],
[33.55,13,34.15,12.4,34.1,11.6,33.7,11.25,33.1,12.25,33.55,13],
[35.1,14.1,35.4,12.9,34.6,10.75,33.6,10.5],
[35.93,12.8,35.6,11.5],
[35.1,4.1,35.3,4.8,35.7,4.1,35.4,3.75,35.1,4.1],
[31.9,.5,32.3,.2,33.9,0],
[22.65,0,22.7,.25,24,.3,25.5,.4,27,.2,28,.3,29,.1,30,.1,30.6,.3,31,.05],
[22.5,.45,23.5,.5,25,.55,26,.45,27.5,.35,28.4,.5],
[28.1,1.4,28.5,1.5,28.4,.9,28.1,1.2],
[29.9,14.2,30.1,13,30.3,14.2],[29.3,9.6,29.6,12,29.3,14.2]];
const e_dashed=[
[25.1,14.2,24.9,12.7,24.4,12.2],
[23.8,10.75,23.1,10.2,22,10.4],
[24.7,12,23.6,12.3,23.2,11.3],
[23.1,14.2,23.1,12.9,22.6,13.1,22,12.4],
[22.6,12.3,22.8,11.1]];
const e_red=[
[28.2,14.2,28.3,11,28.35,10.2],
[28.4,14.2,28.5,12,28.7,10,28.9,8,28.8,7.1],
[28.6,14.2,28.5,11,28.75,9,28.7,7.5],
[29,14.2,28.9,12,29,10,28.95,8.8],
[28.3,14.2,28.4,12,28.6,10,28.75,8.5],
[29.05,11.3,29.05,8.8],
[29.3,13.9,29.3,11,29.3,9.4],
[28.1,4.4,28.15,4]];
const e_labels=[[24.2,13.9,'-10'],[27.4,13.2,'10'],[29.95,11.2,'20'],[32.6,11.1,'40'],[25.7,10.2,'0'],[33.3,8.25,'30'],[23.45,7.1,'0'],[26.3,7.1,'10'],[31.8,7.25,'20'],[28.95,7.15,'20'],[32.6,5.1,'10'],[30,4.8,'10'],[29.85,3.45,'0'],[33.1,3.5,'0'],[24.6,1.4,'10'],[28.9,.7,'10']];

/* panel f */
const f_bands=[
[352,[21.5,11.35,22.4,11.1,23,10.8,24,10.65,24.4,10.1,24.9,9.5,25.8,9.15,26.7,8.6,27.2,7.85,27.6,6.9,28.3,6.45,28.65,5.75,28.85,4.9,28.9,3,29.1,1.8,28.6,1.7,28.1,1.95,27.4,1.6,26.7,1.25,26.6,.5,26.4,.1,25.3,.1,25.2,.5,24.5,.75,23.2,.95,21.9,.9,21.5,.75]],
[352,[28.95,4.6,29.1,5.05,29.5,4.75,29.9,5.05,30.1,6.45,30.4,8.7,30.85,9.3,31.45,10.6,32.4,10.95,33.4,11.55,34.7,11.85,36.3,11.85,36.3,-.5,34,-.5,32.3,.1,31.6,.9,30.5,.8,30,1.25,29.5,2.4,29,3.4]],
[348,[21.5,9.5,22.7,9.45,23.55,8.2,23.7,7.6,24.2,7.5,25.5,7.6,27,7.55,27.4,6.8,28,5.85,28.7,4.9,28.85,3.9,28.85,2.3,28.55,2.55,28.2,3.6,27.9,3.25,27.1,3,26.5,1.5,26.45,1.25,26.1,.35,25.9,.85,24.7,1.35,23.1,1.25,21.5,1]],
[348,[36.3,11.5,34.7,11.4,33.2,10.7,32.4,10,31.5,9.2,31.1,7.75,30.5,6.7,30.1,6.1,30.05,5,29.4,4.45,29,4.45,29,3,29.3,2.55,29.8,1.6,30.2,1,31.2,1.5,31.7,1.15,32.4,.5,33.6,.18,34,-.5,36.3,-.5]],
[344,[21.5,8.2,22.25,8.2,22.5,7,23.6,6.2,24.5,6,24.5,4.9,25,4,25.35,3.15,25.85,2.2,26,1,25.2,1.3,24.1,1.85,22.8,1.95,22.3,1.7,21.5,1.6]],
[344,[26.5,5.6,26.6,6.1,26.9,6,27.3,5,27.5,4.4,27,4.5,26.7,5.1]],
[344,[36.3,11.2,34.7,11.05,33.6,10.5,32.6,9.65,31.9,8.35,31.3,7.4,31.1,6.8,30.5,6,30.2,5.6,30.2,4.55,29.2,4.1,29.05,3.2,29.6,1.85,30.3,1.25,31.3,1.6,32.4,.9,33.35,.3,33.4,-.5,36.3,-.5]],
[340,[21.5,6.55,22.2,6.7,22.5,6.9,22.8,6.1,23.55,6.1,23.7,5.75,24,4.65,24.35,4.1,24.95,3,25,2.55,24.2,2.8,23.1,3,21.5,2.9]],
[340,[36.3,10.7,34.7,10.6,33.6,10,33.05,9.05,32.2,7.85,31.6,6.9,31.2,6.2,30.3,5.85,30.25,5,30.2,4.1,29.15,3.85,29.15,3.35,29.45,2.55,30.1,2,30.4,1.5,31.3,1.8,32.55,1,33.4,.4,34,.1,34,-.5,36.3,-.5]],
[344,[33.1,1.2,33.9,1.3,34.5,1.1,34.4,.6,33.7,.8]],
[336,[21.5,4,22.5,4.7,23.1,5.6,23.5,5.6,23.85,3.85,23.5,3.75,22.8,4.1,21.5,3.55]],
[336,[36.3,10.1,35,9.9,34,9.15,33.3,8.35,32.4,7.15,31.5,5.75,31.3,5.3,30.5,5.5,30.4,4.65,30.45,4.1,30.2,3.5,29.25,3.5,29.05,3.4,29.5,2.8,30.3,2.3,31.3,1.95,32.5,1.1,33,1.1,32.7,1.95,33.2,2.3,34.7,3,35.2,1.95,35.85,1.25,36.3,1]],
[336,[34.9,-.5,34.9,0,35.5,.6,36.3,1,36.3,-.5]],
[332,[36.3,9.2,35.5,8.9,34.7,8.35,33.9,7.75,33.1,6.9,32.2,5.75,31.5,5.15,31.3,4.65,30.6,5,30.6,3.5,30.5,2.65,31.2,2.55,31.4,2.2,32,1.7,32,2.55,32.5,2.8,33.6,3.6,34.3,3.4,35.1,3.7,35.55,3,35.5,2.05,36.3,1.85]],
[332,[29.9,3.3,30.3,3.35,30.35,2.3,30,2.4]],
[328,[36.3,7.45,35.5,7.4,34.5,6.8,33.15,6.2,32.5,5.6,31.5,5.25,31.2,4.9,30.9,4.85,30.7,4.55,30.7,3.7,30.5,2.8,31,2.65,31.75,3.35,32.6,3.5,32.9,3.85,33.6,3.85,34.5,4,36.3,4]],
[328,[31.6,3,31.7,2.5,32,1.8,31.8,2.5]],
[324,[30.75,3.2,31.15,3.6,31.1,4.2,30.9,4.2]]];
const f_lines=[
[22,1.3,22.2,2.1,23,3,24.2,3,24.3,5.6,23.6,7,23.6,8.4,24.2,9.5,24.8,10.1,25.4,9.65,25.75,11.65,26.7,13.9],
[23.5,1.3,23.5,1.9,24.9,1.8,25.25,3,25.3,4,25.4,5.9,25.9,6.4,26,8.9],
[24.35,3,24.4,5,24.5,7,25,7.6,25.1,8.6,26,8.9,26.6,9.7,27.5,11.4,27.6,13,28.6,14.2],
[26.3,1.95,26.9,2.55,28,3.1,28.15,3.6,27.2,4.55,27,5.5,27.1,6.2,27.6,8.45,28.05,14],
[26.3,2,26.6,.55,27.1,1,27.5,1.6,28.4,1.95],
[26.9,5.5,28.15,4.3,28.15,3.4],
[28.4,5.75,28.4,4.1,28.6,3.4],
[28.7,13.8,28.3,8.4,28.4,5.6],
[28.05,8.3,28.7,5.85,28.8,1.7,29.45,.2],
[29.4,14.2,29.2,9.9,29.1,5.6,29.45,4.65,29.7,4.55,30,5,30.2,6.2],
[30,14.2,29.85,12.8,30.2,8.9,30.4,7.6,31.1,6.7,32.8,5.85,34.3,6.2,35.93,7.75],
[30.55,14.2,30.9,12,30.65,9.5,30.45,8.3,31.8,7.3,32.45,6.8,35.1,8.9,35.93,9.3],
[31.1,14.2,30.9,12.4,31.1,9.3,32.4,7.4,34.1,8.9,35.93,10.7],
[32,14.2,31.5,12.4,31.45,10.4,32.2,8.3,33.6,9.2,34.7,10.3,35.93,11.3],
[32.5,14.1,32.1,11.9,32.3,10.4,33.3,9.35,34.7,10.6],
[32,11.7,33.6,10,34.65,11.2,35.6,12.6,35.4,13.9],
[32.55,12.7,32.9,13.4,34.05,13.65,34.3,12.5,34.05,11,33.65,10.7,32.75,12,32.55,12.7],
[34.2,14.2,34.7,12.9,34.5,10.9],
[29.1,3.5,29.65,3.2,30,3.5,30.7,3,31.45,3.5,32.6,3.75,33.5,3.1,34,2.55,33.85,1.25,33.35,.3],
[30.65,3,30.8,4.1,32.3,4.55,33.45,4.1,34,3,34.6,2.9,34.8,3.4,35.93,3.7],
[29.1,4.1,29.7,3.95,30.5,4.1],
[31,2.5,31.9,3.6,32.6,3.75],
[33.6,5.5,34.3,4.9,34.5,3,35.6,2.8,35.93,3.7],
[31,5.5,32,5.3,33.6,5.5],
[29.45,2.4,29.9,2.55,30.5,1.5,31.5,.9,32.4,.2],
[34.7,.3,35.1,.8,35.6,1],
[22.6,.05,22.7,.3,24,.3,25.5,.55,26,.3,27,.35,28,.5,29,.1,30,.1,30.6,.35],
[22.5,.5,23.5,.5,25,.6,27,.6,28,.8,29,.3]];
const f_dashed=[
[22.9,13.9,22.8,12.5,22,12.5],
[25.1,14.2,25.1,12.85,24.5,11.8,24.5,11.2,23.85,10.35,23,9.75,22.05,9.8],
[24.05,13.55,23.85,12,23.4,11.3,23,10.8],
[25.55,14,25.65,13.4,25.8,14.2]];
const f_red=[
[27.25,14.1,27.35,13.2,27.3,10.3,27.2,10.8,27.2,13,27.25,14.1],
[27.85,13.8,27.95,13,27.8,9.75,27.75,12.4,27.85,13.8],
[28.4,13.25,28.65,12.4,28.65,10.6,28.4,9.3,28.4,7.6,28.25,8.1,28.3,9.5,28.25,11.2,28.3,12.95,28.4,13.25],
[28.45,11.7,28.45,10.9],
[28.35,9.5,28.3,7.7],
[28.75,5.15,28.75,2.25]];
const f_labels=[[27.6,12.6,'10'],[25.9,11.8,'0'],[29.95,12.8,'20'],[30.9,12.2,'30'],[32.3,11.2,'40'],[33.85,9,'30'],[23.65,8.5,'0'],[31.9,6.85,'20'],[25.9,6.3,'10'],[28.4,5.75,'20'],[31.85,5.1,'10'],[28.3,4.1,'20'],[29.7,3.8,'10'],[28.9,3.2,'0'],[24.8,2.2,'10'],[33,2.8,'0'],[29.85,1.5,'0'],[27.8,.8,'20']];

const bandColor=b=>({324:'#00589c',328:'#0a6ffb',332:'#1dbbff',336:'#d5dffb',340:'#eeae8f',344:'#e67762',348:'#ffa116',352:'#ffff5c',356:'#ffffff'})[b];
const panels=[
{id:'a',L:269,R:1249,T:98,B:749,bands:a_bands,lines:a_lines,dashed:a_dashed,red:a_red,labels:a_labels,lab:237},
{id:'b',L:270,R:1254,T:932,B:1588,bands:b_bands,lines:b_lines,dashed:b_dashed,red:b_red,labels:b_labels,lab:237},
{id:'c',L:272,R:1254,T:1789,B:2443,bands:c_bands,lines:c_lines,dashed:c_dashed,red:c_red,labels:c_labels,lab:237},
{id:'d',L:1405,R:2387,T:99,B:753,bands:d_bands,lines:d_lines,dashed:d_dashed,red:d_red,labels:d_labels,lab:1376},
{id:'e',L:1405,R:2387,T:935,B:1589,bands:e_bands,lines:e_lines,dashed:e_dashed,red:e_red,labels:e_labels,lab:1376},
{id:'f',L:1404,R:2387,T:1789,B:2443,bands:f_bands,lines:f_lines,dashed:f_dashed,red:f_red,labels:f_labels,lab:1376}];

const NS='http://www.w3.org/2000/svg';
function mk(tag,parent,attrs){const el=document.createElementNS(NS,tag);for(const k in attrs)el.setAttribute(k,attrs[k]);parent.appendChild(el);return el;}
/* chord-scaled spline; vertices outside the plot (third field true) stay sharp corners */
function smooth(pts,closed){
  const n=pts.length;if(n<2)return'';
  const at=i=>closed?pts[(i+n)%n]:pts[Math.max(0,Math.min(n-1,i))];
  const dir=i=>{const a=at(i-1),b=at(i+1);const dx=b[0]-a[0],dy=b[1]-a[1],l=Math.hypot(dx,dy)||1;return[dx/l,dy/l];};
  let d='M'+pts[0][0].toFixed(1)+' '+pts[0][1].toFixed(1);
  const m=closed?n:n-1;
  for(let i=0;i<m;i++){
    const p1=at(i),p2=at(i+1);
    const dx=p2[0]-p1[0],dy=p2[1]-p1[1],L=Math.hypot(dx,dy);
    const u=L?[dx/L,dy/L]:[0,0];
    const d1=p1[2]?u:dir(i),d2=p2[2]?u:dir(i+1);
    d+='C'+(p1[0]+d1[0]*L/3).toFixed(1)+' '+(p1[1]+d1[1]*L/3).toFixed(1)+' '+(p2[0]-d2[0]*L/3).toFixed(1)+' '+(p2[1]-d2[1]*L/3).toFixed(1)+' '+p2[0].toFixed(1)+' '+p2[1].toFixed(1);
  }
  return d+(closed?'Z':'');
}
const root=document.getElementById('panels');
const defs=mk('defs',root,{});
panels.forEach(function(P){
  const xScale=lat=>P.L+(lat-22)*(P.R-P.L)/13.93;
  const yScale=km=>P.B-2-km*(P.B-P.T)/14.2;
  const toPts=a=>{const o=[];for(let i=0;i<a.length;i+=2)o.push([xScale(a[i]),yScale(a[i+1]),a[i]>=36.2||a[i]<=21.6||a[i+1]<=-.4]);return o;};
  const g=mk('g',root,{});
  
  
  const cp=mk('clipPath',defs,{id:'clip-'+P.id});
  mk('rect',cp,{x:P.L,y:P.T,width:P.R-P.L,height:P.B-P.T});
  const plot=mk('g',g,{'clip-path':'url(#clip-'+P.id+')'});
  
  
  P.bands.forEach(function(b){
    const el=mk('path',plot,{d:smooth(toPts(b[1]),true),fill:bandColor(b[0])});
    
    
  });
  P.lines.forEach(function(l){
    const el=mk('path',plot,{d:smooth(toPts(l),false),fill:'none',stroke:'#4d4d4d','stroke-width':2.3,'stroke-opacity':.85});
    
    
  });
  P.dashed.forEach(function(l){
    const el=mk('path',plot,{d:smooth(toPts(l),false),fill:'none',stroke:'#6a6a6a','stroke-width':2.3,'stroke-dasharray':'15 8'});
    
    
  });
  P.red.forEach(function(l){
    const el=mk('path',plot,{d:smooth(toPts(l),false),fill:'none',stroke:'#ff3344','stroke-width':5});
    
    
  });
  P.labels.forEach(function(t){
    const cx=xScale(t[0]),cy=yScale(t[1]);
    const w=t[2].length>2?44:(t[2].length>1?32:24);
    const bx=mk('rect',plot,{x:cx-w/2,y:cy-13,width:w,height:26,fill:'#e8e8e8','fill-opacity':.55,stroke:'#9a9a9a','stroke-width':1.5});
    
    
    const tx=mk('text',plot,{x:cx,y:cy+8,'font-size':22,'text-anchor':'middle'});
    tx.textContent=t[2];
    
    
  });
  const base=mk('line',g,{x1:P.L,x2:P.R,y1:P.B-5,y2:P.B-5,stroke:'#666','stroke-width':2.5});
  
  
  const frame=mk('rect',g,{x:P.L,y:P.T,width:P.R-P.L,height:P.B-P.T,fill:'none',stroke:'#8c8c8c','stroke-width':3.5});
  
  
  latTicks.forEach(function(v,i){
    const x=xScale(v);
    const t1=mk('line',g,{x1:x,x2:x,y1:P.B,y2:P.B-14,stroke:'#777','stroke-width':2.5});
    
    
    const t2=mk('line',g,{x1:x,x2:x,y1:P.T,y2:P.T+24,stroke:'#777','stroke-width':2.5});
    
    
    const tx=mk('text',g,{x:x,y:P.B+77,'font-size':52,'text-anchor':'middle'});
    tx.textContent=latLabels[i];
    
    
  });
  kmTicks.forEach(function(v,i){
    const y=yScale(v);
    const t1=mk('line',g,{x1:P.L,x2:P.L+24,y1:y,y2:y,stroke:'#777','stroke-width':2.5});
    
    
    const t2=mk('line',g,{x1:P.R,x2:P.R-24,y1:y,y2:y,stroke:'#777','stroke-width':2.5});
    
    
    const tx=mk('text',g,{x:P.lab,y:y+20.5,'font-size':55,'text-anchor':'end'});
    tx.textContent=kmLabels[i];
    
    
  });
});
const leg=document.getElementById('legend');
const legX=i=>674+i*131;
legendBands.forEach(function(b,i){
  const r=mk('rect',leg,{x:legX(i),y:2617,width:131,height:65,fill:bandColor(b),stroke:'#7c7c7c','stroke-width':2.5});
  
  
});
legendLabels.forEach(function(t,i){
  const tx=mk('text',leg,{x:legX(i+1),y:2763,'class':'lg'});
  tx.textContent=t;
  
  
});
</script>
</body>
</html>
